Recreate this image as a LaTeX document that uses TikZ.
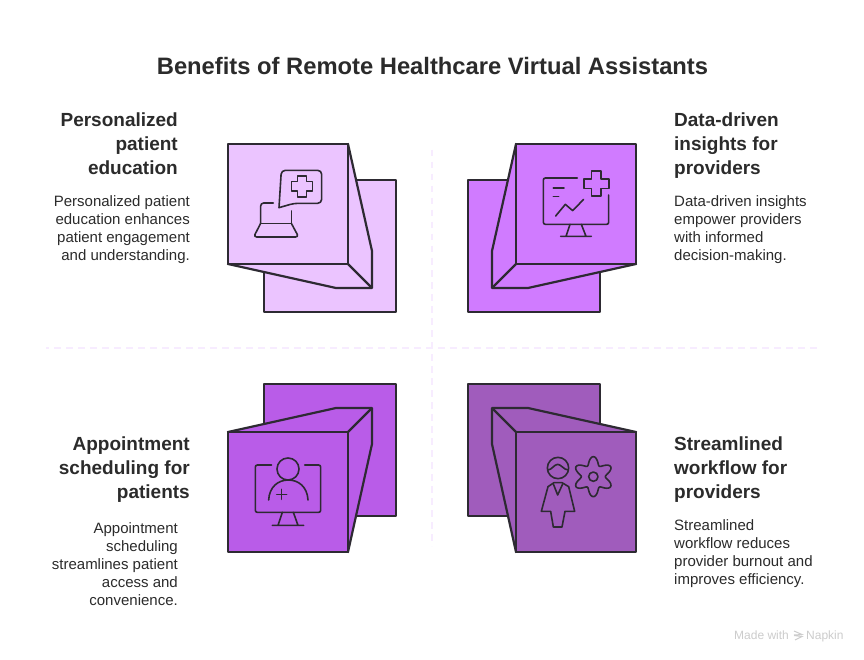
\documentclass[tikz,border=0pt]{standalone}
\usepackage{fontspec}
\setmainfont{Liberation Sans}
\definecolor{inkline}{HTML}{2D2A32}
\definecolor{inktext}{HTML}{2B2B2B}
\definecolor{softline}{HTML}{F7ECFF}
\definecolor{fillA}{HTML}{EBC4FF}
\definecolor{fillB}{HTML}{D07BFF}
\definecolor{fillC}{HTML}{B95CE8}
\definecolor{fillD}{HTML}{A05CBC}
\tikzset{
	boxline/.style={draw=inkline,line width=2.2pt,line join=round},
	iconline/.style={draw=inkline,line width=1.6pt,line cap=round,line join=round},
	divline/.style={softline,line width=2pt,dash pattern=on 6.5pt off 5.5pt},
	headtext/.style={inner sep=0pt,font=\fontsize{19}{24}\selectfont\bfseries,text=inktext},
	bodytext/.style={inner sep=0pt,font=\fontsize{15}{18}\selectfont,text=inktext},
	marktext/.style={inner sep=0pt,anchor=base west,font=\fontsize{12}{14}\selectfont,text=black!20}
}
\begin{document}
\begin{tikzpicture}[x=1pt,y=-1pt]
	\useasboundingbox (0,0) rectangle (864,660);
	\fill[white] (0,0) rectangle (864,660);
	% dividers
	\draw[divline] (432,150) -- (432,546);
	\draw[divline,dash phase=4pt] (46,348) -- (818,348);
	\node[inner sep=0pt,font=\fontsize{23.75}{28}\selectfont\bfseries,text=inktext] (title) at (432.5,66) {Benefits of Remote Healthcare Virtual Assistants};

	% top left
	\filldraw[boxline,fill=fillA] (264,180) rectangle (396,312);
	\filldraw[boxline,fill=fillA] (348,144) -- (372,251) -- (372,288) -- (336,288) -- (228,264) -- cycle;
	\filldraw[boxline,fill=fillA] (228,144) rectangle (348,264);
	\draw[boxline] (348,264) -- (372,288);
	\begin{scope}[shift={(220,135)},scale=1/3]
		\draw[iconline] (177,218) [rounded corners=4pt] -- (184,106) -- (305,106) -- (305,205) -- (222,205) [sharp corners] -- cycle;
		\draw[iconline] (232,123) -- (260,123) -- (260,140) -- (278,140) -- (278,168) -- (260,168) -- (260,186) -- (232,186) -- (232,168) -- (214,168) -- (214,140) -- (232,140) -- cycle;
		\draw[iconline,rounded corners=3pt] (160,204) -- (122,204) -- (122,265);
		\draw[iconline] (122,265) -- (214,265) -- (214,228);
		\draw[iconline,rounded corners=3pt] (122,265) -- (101,306) -- (236,306) -- (214,265);
	\end{scope}
	\node[headtext,align=right,anchor=north east] (headA) at (178,113) {Personalized\\patient\\education};
	\node[bodytext,align=right,anchor=north east] (bodyA) at (190,195) {Personalized patient\\education enhances\\patient engagement\\and understanding.};

	% top right
	\filldraw[boxline,fill=fillB] (468,180) rectangle (600,312);
	\filldraw[boxline,fill=fillB] (516,144) -- (492,251) -- (492,288) -- (528,288) -- (636,264) -- cycle;
	\filldraw[boxline,fill=fillB] (516,144) rectangle (636,264);
	\draw[boxline] (516,264) -- (492,288);
	\begin{scope}[shift={(460,135)},scale=1/3]
		\draw[iconline,rounded corners=2pt] (352,129) -- (250,129) -- (250,268) -- (446,268) -- (446,180);
		\draw[iconline] (330,268) -- (318,304) (364,268) -- (378,304) (302,304) -- (394,304);
		\draw[iconline] (280,159) -- (312,159) (280,185) -- (296,185);
		\draw[iconline] (287,243) -- (316,208) -- (338,227) -- (371,193);
		\draw[iconline] (395,108) -- (423,108) -- (423,132) -- (447,132) -- (447,160) -- (423,160) -- (423,183) -- (395,183) -- (395,160) -- (372,160) -- (372,132) -- (395,132) -- cycle;
	\end{scope}
	\node[headtext,align=left,anchor=north west] (headB) at (674,113) {Data-driven\\insights for\\providers};
	\node[bodytext,align=left,anchor=north west] (bodyB) at (674,195) {Data-driven insights\\empower providers\\with informed\\decision-making.};

	% bottom left
	\filldraw[boxline,fill=fillC] (264,384) rectangle (396,516);
	\filldraw[boxline,fill=fillC] (228,432) -- (336,408) -- (372,408) -- (372,444) -- (348,552) -- cycle;
	\filldraw[boxline,fill=fillC] (228,432) rectangle (348,552);
	\draw[boxline] (348,432) -- (372,408);
	\begin{scope}[shift={(220,375)},scale=1/3]
		\draw[iconline,rounded corners=2pt] (155,270) -- (106,270) -- (106,412) -- (302,412) -- (302,270) -- (254,270);
		\draw[iconline] (204,282) circle (33);
		\draw[iconline] (146,375) .. controls (148,335) and (175,315) .. (205,315) .. controls (235,315) and (262,335) .. (264,375);
		\draw[iconline] (170,358) -- (200,358) (185,343) -- (185,373);
		\draw[iconline] (187,412) -- (174,451) (220,412) -- (234,451) (157,451) -- (251,451);
	\end{scope}
	\node[headtext,align=right,anchor=north east] (headC) at (190,437) {Appointment\\scheduling for\\patients};
	\node[bodytext,align=right,anchor=north east] (bodyC) at (178,522) {Appointment\\scheduling\\streamlines patient\\access and\\convenience.};

	% bottom right
	\filldraw[boxline,fill=fillD] (468,384) rectangle (600,516);
	\filldraw[boxline,fill=fillD] (636,432) -- (528,408) -- (492,408) -- (492,444) -- (516,552) -- cycle;
	\filldraw[boxline,fill=fillD] (516,432) rectangle (636,552);
	\draw[boxline] (516,432) -- (492,408);
	\begin{scope}[shift={(460,375)},scale=1/3]
		\draw[iconline] (294,279) circle (32);
		\draw[iconline] (263,285) .. controls (275,285) and (283,268) .. (293,268) .. controls (303,268) and (312,285) .. (325,285);
		\draw[iconline] (282,323) -- (306,323) -- (326,335) -- (344,409) -- (315,409) -- (306,456) -- (280,456) -- (272,409) -- (244,409) -- (264,335) -- cycle;
		\draw[iconline] (280,327) -- (293,360) -- (308,327);
		\draw[iconline] (400,305) circle (14);
		\draw[iconline] plot[domain=0:360,samples=97,smooth] ({400+(48+12*cos(6*\x))*sin(\x)},{305+(48+12*cos(6*\x))*cos(\x)}) -- cycle;
	\end{scope}
	\node[headtext,align=left,anchor=north west] (headD) at (674,437) {Streamlined\\workflow for\\providers};
	\node[bodytext,align=left,anchor=north west] (bodyD) at (674,519) {Streamlined\\workflow reduces\\provider burnout and\\improves efficiency.};

	% footer
	\node[marktext] (madewith) at (734,639) {Made with};
	\node[marktext] (napkin) at (806,639) {Napkin};
	\draw[black!20,line width=1pt] (794,631) -- (802,634.5) -- (794,635) (794,635.5) -- (802,636.5) -- (795,640);
\end{tikzpicture}
\end{document}
